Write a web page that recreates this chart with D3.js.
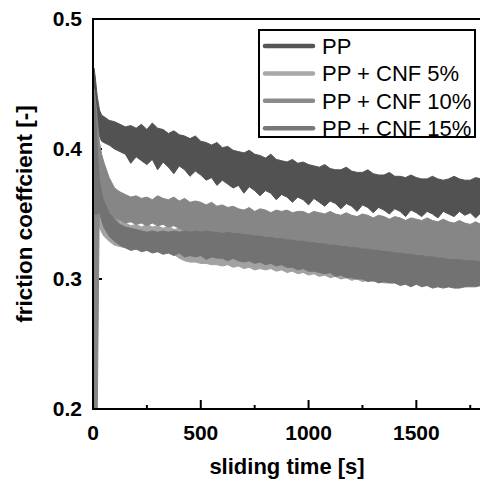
<!DOCTYPE html>
<html><head><meta charset="utf-8">
<script src="https://cdn.jsdelivr.net/npm/d3@7"></script>
<style>html,body{margin:0;padding:0;background:#fff;} svg{display:block;}</style>
</head><body>
<script>
// ---- data (upper / lower edge of each noisy trace) ----
const times = [0,5,10,15,20,30,40,50,75,
  100,125,150,175,200,225,250,275,300,325,350,375,400,425,450,475,500,525,550,575,600,625,650,675,700,725,750,775,800,825,850,875,900,925,950,975,1000,1025,1050,1075,1100,1125,1150,1175,1200,1225,1250,1275,1300,1325,1350,1375,1400,1425,1450,1475,1500,1525,1550,1575,1600,1625,1650,1675,1700,1725,1750,1775,1800];

const ppHi = [0.455,0.462,0.456,0.448,0.440,0.430,0.426,0.425,0.422,
  0.421,0.419,0.417,0.418,0.416,0.419,0.415,0.420,0.416,0.415,
  0.412,0.414,0.411,0.410,0.408,0.410,0.406,0.405,0.403,0.405,
  0.401,0.402,0.399,0.398,0.397,0.399,0.396,0.395,0.393,0.396,
  0.392,0.391,0.390,0.392,0.389,0.390,0.388,0.387,0.386,0.388,
  0.385,0.384,0.384,0.386,0.383,0.382,0.382,0.384,0.381,0.380,
  0.380,0.382,0.379,0.379,0.378,0.380,0.378,0.377,0.377,0.379,
  0.377,0.376,0.377,0.379,0.377,0.376,0.376,0.378,0.377];
const ppLo = [0.432,0.440,0.432,0.424,0.418,0.410,0.406,0.405,0.403,
  0.400,0.398,0.396,0.389,0.394,0.391,0.388,0.392,0.384,0.390,
  0.386,0.381,0.387,0.384,0.379,0.383,0.380,0.376,0.378,0.372,
  0.376,0.373,0.370,0.372,0.366,0.371,0.368,0.364,0.368,0.366,
  0.361,0.365,0.363,0.359,0.363,0.361,0.357,0.362,0.359,0.356,
  0.360,0.358,0.354,0.358,0.356,0.352,0.357,0.355,0.351,0.355,
  0.353,0.350,0.354,0.352,0.348,0.353,0.351,0.348,0.352,0.350,
  0.347,0.352,0.350,0.348,0.352,0.349,0.351,0.347,0.351];

const cnf5Hi = [0.430,0.442,0.436,0.420,0.405,0.382,0.370,0.362,0.352,
  0.347,0.344,0.343,0.341,0.342,0.340,0.342,0.340,0.341,0.339,0.341,0.338,0.339,0.336,0.335,0.334,0.333,0.333,0.332,0.332,0.331,0.331,0.330,0.330,0.329,0.329,0.328,0.328,0.327,0.327,0.326,0.326,0.325,0.325,0.324,0.324,0.323,0.323,0.322,0.322,0.321,0.321,0.320,0.320,0.319,0.319,0.318,0.318,0.317,0.317,0.316,0.316,0.315,0.315,0.314,0.314,0.313,0.313,0.312,0.312,0.311,0.311,0.310,0.310,0.310,0.309,0.309,0.309,0.308];
const cnf5Lo = [0.360,0.360,0.355,0.350,0.345,0.340,0.336,0.333,0.329,
  0.326,0.325,0.324,0.324,0.323,0.323,0.322,0.322,0.321,0.321,0.320,0.319,0.316,0.314,0.313,0.313,0.312,0.312,0.311,0.311,0.310,0.311,0.309,0.310,0.308,0.309,0.307,0.308,0.307,0.308,0.306,0.307,0.305,0.306,0.304,0.305,0.303,0.304,0.302,0.303,0.301,0.302,0.300,0.301,0.299,0.300,0.298,0.299,0.298,0.298,0.297,0.297,0.297,0.296,0.296,0.295,0.296,0.295,0.295,0.294,0.295,0.294,0.294,0.294,0.294,0.294,0.295,0.295,0.295];

const cnf10Hi = [0.440,0.446,0.440,0.432,0.422,0.405,0.396,0.390,0.378,
  0.370,0.367,0.365,0.363,0.364,0.362,0.363,0.361,0.364,0.362,
  0.361,0.363,0.360,0.362,0.359,0.360,0.359,0.357,0.359,0.356,
  0.357,0.355,0.356,0.354,0.353,0.355,0.352,0.354,0.353,0.351,
  0.353,0.352,0.353,0.351,0.352,0.352,0.350,0.352,0.351,0.350,
  0.352,0.350,0.349,0.351,0.349,0.348,0.350,0.349,0.347,0.349,
  0.348,0.346,0.348,0.347,0.345,0.347,0.346,0.345,0.347,0.345,
  0.344,0.346,0.344,0.343,0.345,0.343,0.342,0.344,0.342];
const cnf10Lo = [0.200,0.200,0.200,0.200,0.200,0.372,0.365,0.360,0.352,
  0.347,0.345,0.343,0.344,0.342,0.343,0.341,0.343,0.341,0.342,0.340,0.341,0.339,0.337,0.333,0.334,0.333,0.334,0.333,0.333,0.332,0.333,0.332,0.332,0.331,0.331,0.330,0.330,0.329,0.329,0.328,0.328,0.327,0.327,0.326,0.326,0.325,0.325,0.324,0.324,0.323,0.323,0.322,0.322,0.321,0.321,0.320,0.320,0.319,0.319,0.318,0.318,0.317,0.317,0.316,0.316,0.315,0.315,0.314,0.314,0.313,0.313,0.312,0.312,0.312,0.311,0.311,0.311,0.310];

const cnf15Hi = [0.425,0.440,0.432,0.418,0.400,0.376,0.366,0.360,0.351,
  0.346,0.342,0.340,0.339,0.338,0.337,0.336,0.337,0.336,0.337,0.336,0.337,0.336,0.337,0.336,0.337,0.336,0.337,0.336,0.336,0.335,0.336,0.335,0.335,0.334,0.334,0.333,0.333,0.332,0.332,0.331,0.331,0.330,0.330,0.329,0.329,0.328,0.328,0.327,0.327,0.326,0.326,0.325,0.325,0.324,0.324,0.323,0.323,0.322,0.322,0.321,0.321,0.320,0.320,0.319,0.319,0.318,0.318,0.317,0.317,0.316,0.316,0.315,0.315,0.315,0.314,0.314,0.314,0.313];
const cnf15Lo = [0.350,0.350,0.350,0.350,0.350,0.352,0.345,0.340,0.333,
  0.329,0.326,0.324,0.322,0.323,0.321,0.322,0.320,0.321,0.319,
  0.320,0.318,0.320,0.317,0.318,0.317,0.318,0.315,0.317,0.316,
  0.316,0.314,0.316,0.314,0.313,0.314,0.312,0.313,0.311,0.312,
  0.310,0.311,0.309,0.309,0.307,0.308,0.306,0.306,0.305,0.304,
  0.305,0.302,0.303,0.301,0.301,0.300,0.300,0.298,0.299,0.297,
  0.298,0.297,0.297,0.295,0.296,0.294,0.296,0.294,0.295,0.293,
  0.294,0.293,0.294,0.293,0.293,0.294,0.294,0.294,0.295];

const seriesNames = ["PP", "PP + CNF 5%", "PP + CNF 10%", "PP + CNF 15%"];
const xMajorTicks = [0, 500, 1000, 1500];
const xMinorTicks = [250, 750, 1250, 1750];
const yTicks = [0.2, 0.3, 0.4, 0.5];

// ---- styling ----
const bandColors = {"PP": "#525252", "PP + CNF 5%": "#a2a2a2", "PP + CNF 10%": "#868686", "PP + CNF 15%": "#727272"};
const legendColors = {"PP": "#555555", "PP + CNF 5%": "#a8a8a8", "PP + CNF 10%": "#8b8b8b", "PP + CNF 15%": "#777777"};

const W = 480, H = 483;
const svg = d3.select("body").append("svg").attr("width", W).attr("height", H);

const x = d3.scaleLinear().domain([0, 1800]).range([93, 481]);
const y = d3.scaleLinear().domain([0.2, 0.5]).range([409, 19]);

const font = "'Liberation Sans', Arial, Helvetica, sans-serif";

// ticks (drawn below data)
const gx = svg.append("g").attr("transform", `translate(0,${y(0.2)})`)
  .call(d3.axisBottom(x).tickValues(xMajorTicks).tickSizeInner(-9).tickSizeOuter(0).tickPadding(15.6).tickFormat(d3.format("d")).offset(0));
const gxm = svg.append("g").attr("transform", `translate(0,${y(0.2)})`)
  .call(d3.axisBottom(x).tickValues(xMinorTicks).tickSizeInner(-4).tickSizeOuter(0).tickFormat("").offset(0));
const gy = svg.append("g").attr("transform", `translate(${x(0)},0)`)
  .call(d3.axisLeft(y).tickValues(yTicks).tickSizeInner(-9).tickSizeOuter(0).tickPadding(11).tickFormat(d3.format(".1f")).offset(0));

[gx, gxm, gy].forEach(g => {
  g.select(".domain").remove();
  g.selectAll(".tick line").attr("stroke", "#000").attr("stroke-width", 2);
  g.selectAll(".tick text").attr("fill", "#000").style("font-family", font).style("font-weight", "bold").style("font-size", "21px");
});

// data bands
svg.append("clipPath").attr("id", "plotclip").append("rect")
  .attr("x", x(0) + 1).attr("y", y(0.5) + 1).attr("width", x(1800) - x(0)).attr("height", y(0.2) - y(0.5) - 2);

const series = [
  {name: "PP", hi: ppHi, lo: ppLo},
  {name: "PP + CNF 5%", hi: cnf5Hi, lo: cnf5Lo},
  {name: "PP + CNF 10%", hi: cnf10Hi, lo: cnf10Lo},
  {name: "PP + CNF 15%", hi: cnf15Hi, lo: cnf15Lo}
];
const bad = series.filter(s => s.hi.length !== times.length || s.lo.length !== times.length)
  .map(s => `${s.name}: ${s.hi.length}/${s.lo.length} vs ${times.length}`);
if (bad.length) throw new Error("length mismatch " + bad.join("; "));

const area = d3.area()
  .x(d => x(d.t)).y0(d => y(d.lo)).y1(d => y(d.hi)).curve(d3.curveLinear);

const gData = svg.append("g").attr("clip-path", "url(#plotclip)");
series.forEach(s => {
  const pts = times.map((t, i) => ({t, hi: s.hi[i], lo: s.lo[i]}));
  gData.append("path").datum(pts).attr("d", area)
    .attr("fill", bandColors[s.name])
    .attr("stroke", bandColors[s.name]).attr("stroke-width", 1).attr("stroke-linejoin", "round");
});

// frame lines
svg.append("line").attr("x1", x(0)).attr("x2", x(1800) + 2).attr("y1", y(0.2)).attr("y2", y(0.2)).attr("stroke", "#000").attr("stroke-width", 2);
svg.append("line").attr("x1", x(0)).attr("x2", x(1800) + 2).attr("y1", y(0.5)).attr("y2", y(0.5)).attr("stroke", "#000").attr("stroke-width", 2);
svg.append("line").attr("x1", x(0)).attr("x2", x(0)).attr("y1", y(0.5) - 1).attr("y2", y(0.2) + 1).attr("stroke", "#000").attr("stroke-width", 2);

// axis titles
svg.append("text").attr("x", (x(0) + x(1800)) / 2).attr("y", 474).attr("text-anchor", "middle")
  .style("font-family", font).style("font-weight", "bold").style("font-size", "22px").text("sliding time [s]");
svg.append("text").attr("transform", `translate(32,${(y(0.5) + y(0.2)) / 2}) rotate(-90)`).attr("text-anchor", "middle")
  .style("font-family", font).style("font-weight", "bold").style("font-size", "22.5px").text("friction coeffcient [-]");

// legend
const lg = svg.append("g");
lg.append("rect").attr("x", 259).attr("y", 30).attr("width", 216).attr("height", 107)
  .attr("fill", "#fff").attr("stroke", "#000").attr("stroke-width", 2);
seriesNames.forEach((name, i) => {
  const ly = 46 + i * 27.4;
  lg.append("line").attr("x1", 265).attr("x2", 313).attr("y1", ly).attr("y2", ly)
    .attr("stroke", legendColors[name]).attr("stroke-width", 4.5).attr("stroke-linecap", "round");
  lg.append("text").attr("x", 322).attr("y", ly + 8)
    .style("font-family", font).style("font-size", "22px").attr("fill", "#000").text(name);
});
</script>
</body></html>
